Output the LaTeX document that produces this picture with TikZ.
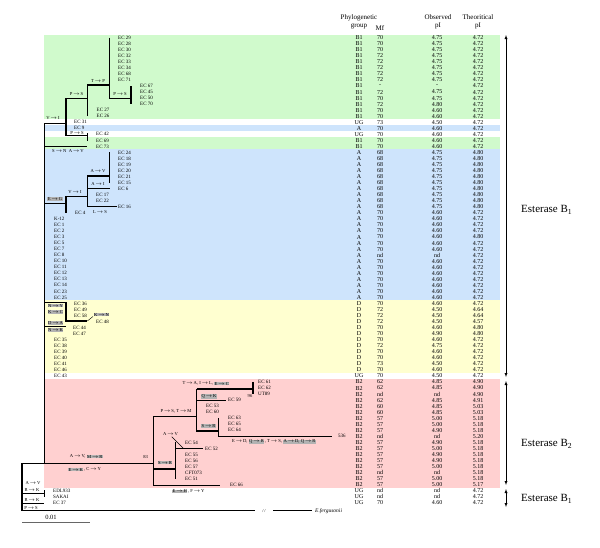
\documentclass[tikz,border=0pt]{standalone}
\usepackage{fontspec}
\setmainfont{Liberation Serif}
\usetikzlibrary{positioning}
\definecolor{bandBone}{RGB}{208,250,204}
\definecolor{bandA}{RGB}{206,228,252}
\definecolor{bandD}{RGB}{255,255,208}
\definecolor{bandBtwo}{RGB}{255,208,208}
\tikzset{
  br/.style={line width=1.1pt},
  leaf/.style={anchor=west,inner sep=0pt,font=\fontsize{5}{5}\selectfont},
  mut/.style={inner sep=0.3pt,font=\fontsize{4.6}{5}\selectfont},
  gmut/.style={mut,fill=black!30},
  cell/.style={inner sep=0pt,font=\fontsize{6}{6}\selectfont},
  head/.style={inner sep=0pt,font=\fontsize{7}{8}\selectfont,align=center},
  esta/.style={anchor=west,inner sep=0pt,font=\fontsize{11}{11}\selectfont},
}
\newcommand\ry[1]{37.7+(#1-1)*6.04}
\newcommand\mto{\,$\rightarrow$\,}
\begin{document}
\begin{tikzpicture}[x=1pt,y=-1pt,>=latex]
\useasboundingbox (0,0) rectangle (600,547);
% colour bands of the groups
\fill[bandBone] (44,{\ry{1}-3.02}) rectangle (500,{\ry{14}+3.02});
\fill[bandA] (44,{\ry{16}-3.02}) rectangle (500,{\ry{16}+3.02});
\fill[bandBone] (44,{\ry{18}-3.02}) rectangle (500,{\ry{19}+3.02});
\fill[bandA] (44,{\ry{20}-3.02}) rectangle (500,{\ry{44}+3.02});
\fill[bandD] (44,{\ry{45}-3.02}) rectangle (500,{\ry{56}+3.02});
\fill[bandBtwo] (44,{\ry{58}-3.02}) rectangle (500,{\ry{75}+3.02});

% table
\node[head] (hgrp) at (359,22) {Phylogenetic\\group};
\node[head] (hmf) at (380,28.3) {Mf};
\node[head] (hobs) at (438,22) {Observed\\pI};
\node[head] (htheo) at (478,22) {Theoritical\\pI};
\foreach \g/\m/\o/\t [count=\i] in {
  B1/70/4.75/4.72,B1/70/4.75/4.72,B1/70/4.75/4.72,B1/72/4.75/4.72,B1/72/4.75/4.72,
  B1/72/4.75/4.72,B1/72/4.75/4.72,B1/72/4.75/4.72,B1/-/-/4.72,B1/72/4.75/4.72,
  B1/70/4.75/4.72,B1/72/4.80/4.72,B1/70/4.60/4.72,B1/70/4.60/4.72,UG/73/4.50/4.72,
  A/70/4.60/4.72,UG/70/4.60/4.72,B1/70/4.60/4.72,B1/70/4.60/4.72,
  A/68/4.75/4.80,A/68/4.75/4.80,A/68/4.75/4.80,A/68/4.75/4.80,A/68/4.75/4.80,
  A/68/4.75/4.80,A/68/4.75/4.80,A/68/4.75/4.80,A/68/4.75/4.80,A/68/4.75/4.80,
  A/70/4.60/4.72,A/70/4.60/4.72,A/70/4.60/4.72,A/70/4.60/4.72,A/70/4.60/4.80,
  A/70/4.60/4.72,A/70/4.60/4.72,A/nd/nd/4.72,A/70/4.60/4.72,A/70/4.60/4.72,
  A/70/4.60/4.72,A/70/4.60/4.72,A/70/4.60/4.72,A/70/4.60/4.72,A/70/4.60/4.72,
  D/70/4.60/4.72,D/72/4.50/4.64,D/72/4.50/4.64,D/72/4.50/4.57,D/70/4.60/4.80,
  D/70/4.90/4.80,D/70/4.60/4.72,D/72/4.75/4.72,D/70/4.60/4.72,D/70/4.60/4.72,
  D/73/4.50/4.72,D/70/4.60/4.72,UG/70/4.50/4.72,
  B2/62/4.85/4.90,B2/62/4.85/4.90,B2/nd/nd/4.90,B2/62/4.85/4.91,B2/60/4.85/5.03,
  B2/60/4.85/5.03,B2/57/5.00/5.18,B2/57/5.00/5.18,B2/57/4.90/5.18,B2/nd/nd/5.20,
  B2/57/4.90/5.18,B2/57/5.00/5.18,B2/57/4.90/5.18,B2/57/4.90/5.18,B2/57/5.00/5.18,
  B2/nd/nd/5.18,B2/57/5.00/5.18,B2/57/5.00/5.17,
  UG/nd/nd/4.72,UG/nd/nd/4.72,UG/70/4.60/4.72}{
  \node[cell] (grp\i) at (359,{\ry{\i}}) {\g};
  \node[cell] (mf\i) at (380,{\ry{\i}}) {\m};
  \node[cell] (obs\i) at (437,{\ry{\i}}) {\o};
  \node[cell] (theo\i) at (478,{\ry{\i}}) {\t};
}

% leaves
\foreach \l [count=\k from 1] in {EC 29,EC 28,EC 30,EC 32,EC 33,EC 34,EC 68,EC 71}
  \node[leaf] (leaf\k) at (118,{\ry{\k}}) {\l};
\foreach \l [count=\k from 9] in {EC 67,EC 45,EC 50,EC 70}
  \node[leaf] (leaf\k) at (140,{\ry{\k}}) {\l};
\foreach \l [count=\k from 13] in {EC 27,EC 26}
  \node[leaf] (leaf\k) at (96.5,{\ry{\k}}) {\l};
\foreach \l [count=\k from 15] in {EC 31,EC 9}
  \node[leaf] (leaf\k) at (74,{\ry{\k}}) {\l};
\foreach \l [count=\k from 17] in {EC 42,EC 69,EC 73}
  \node[leaf] (leaf\k) at (96,{\ry{\k}}) {\l};
\foreach \l [count=\k from 20] in {EC 24,EC 18,EC 19,EC 20,EC 21,EC 15,EC 6}
  \node[leaf] (leaf\k) at (118,{\ry{\k}}) {\l};
\foreach \l [count=\k from 27] in {EC 17,EC 22}
  \node[leaf] (leaf\k) at (96,{\ry{\k}}) {\l};
\node[leaf] (leaf29) at (118,{\ry{29}}) {EC 16};
\node[leaf] (leaf30) at (75,{\ry{30}}) {EC 4};
\foreach \l [count=\k from 31] in {K-12,EC 1,EC 2,EC 3,EC 5,EC 7,EC 8,EC 10,EC 11,EC 12,EC 13,EC 14,EC 23,EC 25}
  \node[leaf] (leaf\k) at (54,{\ry{\k}}) {\l};
\foreach \l [count=\k from 45] in {EC 36,EC 49,EC 58}
  \node[leaf] (leaf\k) at (74,{\ry{\k}}) {\l};
\node[leaf] (leaf48) at (96,{\ry{48}}) {EC 48};
\foreach \l [count=\k from 49] in {EC 44,EC 47}
  \node[leaf] (leaf\k) at (73,{\ry{\k}}) {\l};
\foreach \l [count=\k from 51] in {EC 35,EC 38,EC 39,EC 40,EC 41,EC 46,EC 43}
  \node[leaf] (leaf\k) at (54,{\ry{\k}}) {\l};
\foreach \l [count=\k from 58] in {EC 61,EC 62,UT89}
  \node[leaf] (leaf\k) at (258,{\ry{\k}}) {\l};
\node[leaf] (leaf61) at (228,{\ry{61}}) {EC 59};
\foreach \l [count=\k from 62] in {EC 53,EC 60}
  \node[leaf] (leaf\k) at (206,{\ry{\k}}) {\l};
\foreach \l [count=\k from 64] in {EC 63,EC 65,EC 64}
  \node[leaf] (leaf\k) at (228,{\ry{\k}}) {\l};
\node[leaf] (leaf67) at (338,{\ry{67}}) {536};
\node[leaf] (leaf68) at (185,{\ry{68}}) {EC 54};
\node[leaf] (leaf69) at (205,{\ry{69}}) {EC 52};
\foreach \l [count=\k from 70] in {EC 55,EC 56,EC 57,CFT073,EC 51}
  \node[leaf] (leaf\k) at (185,{\ry{\k}}) {\l};
\node[leaf] (leaf75) at (230,{\ry{75}}) {EC 66};
\foreach \l [count=\k from 76] in {EDL933,SAKAI,EC 37}
  \node[leaf] (leaf\k) at (53,{\ry{\k}}) {\l};

% branches, B1 part
\draw[br] (109.3,{\ry{1}}) -- (109.3,98.1) -- (131,98.1);
\draw[br] (131,{\ry{9}}) -- (131,{\ry{12}});
\draw[br] (87.3,116) -- (87.3,85) -- (109.3,85);
\draw[br] (44.3,123.3) -- (66,123.3);
\draw[br] (87.3,98.1) -- (66,98.1) -- (66,135.7) -- (87.3,135.7);
\draw[br] (87.3,133) -- (87.3,140.5);
\draw[br] (44.3,146.2) -- (87.3,146.2);
% A part
\draw[br] (109.3,{\ry{20}}) -- (109.3,{\ry{25}});
\draw[br] (109.3,176) -- (87.3,176) -- (87.3,206.3) -- (117,206.3);
\draw[br] (87.3,188.7) -- (110,188.7);
\draw[br] (87.3,196.7) -- (66,196.7) -- (66,212.5);
\draw[br] (44.3,203.5) -- (66,203.5);
% D part
\draw[br] (44.3,302.3) -- (66,302.3) -- (66,321) -- (87.3,321);
\draw (87.3,321) -- (93,316.5);
\draw[br] (44.3,326.5) -- (66,326.5);
% trunk and root
\draw[br] (44.3,123.3) -- (44.3,463.3);
\draw[br] (153.3,463.3) -- (22,463.3) -- (22,510.7) -- (255,510.7);
\draw[br] (273,510.7) -- (312,510.7);
\draw[br] (22,493.3) -- (44.3,493.3);
\draw[br] (44.3,490) -- (44.3,496.5);
\draw[br] (22,503.3) -- (44.3,503.3);
% B2 part
\draw[br] (153.3,416.7) -- (153.3,485.7) -- (220,485.7);
\draw[br] (153.3,469) -- (175.7,469);
\draw[br] (175.7,{\ry{68}}) -- (175.7,{\ry{74}});
\draw[br] (175.7,{\ry{69}}) -- (203.3,{\ry{69}});
\draw (171.7,436.7) -- (183.3,448.3);
\draw[br] (153.3,416.7) -- (196.7,416.7);
\draw[br] (196.7,389) -- (196.7,431) -- (218.3,431);
\draw[br] (196.7,389) -- (253,389);
\draw[br] (253,{\ry{58}}) -- (253,{\ry{60}});
\draw[br] (196.7,{\ry{61}}) -- (226,{\ry{61}});
\draw[br] (218.3,{\ry{64}}) -- (218.3,{\ry{67}}) -- (331.7,{\ry{67}});

% mutations
\node[mut] (mTP) at (98,80.5) {T\mto P};
\node[mut] (mPSa) at (120,94) {P\mto S};
\node[mut] (mPSb) at (76.5,94) {P\mto S};
\node[mut] (mVIa) at (53,118.5) {V\mto I};
\node[mut] (mPSc) at (77,133) {P\mto S};
\node[mut] (mSN) at (68,151) {S\mto N\ \ A\mto V};
\node[mut] (mAV) at (98,171.3) {A\mto V};
\node[mut] (mAI) at (98,183.8) {A\mto I};
\node[mut] (mVIb) at (75,191.7) {V\mto I};
\node[gmut] (mEG) at (55,199.3) {E\mto G};
\node[mut] (mLS) at (100,212.3) {L\mto S};
\node[gmut] (mNY) at (55.5,305.5) {N\mto Y};
\node[gmut] (mKC) at (55.5,311.8) {K\mto C};
\node[gmut] (mKN) at (101.5,314.5) {K\mto N};
\node[gmut] (mDA) at (55.5,323) {D\mto A};
\node[gmut] (mNK) at (55.5,330) {N\mto K};
\node[mut] (mAVr) at (33,483.5) {A\mto V};
\node[mut] (mRKa) at (32,490.3) {R\mto K};
\node[mut] (mRKb) at (32,500) {R\mto K};
\node[mut] (mPSr) at (31,507.6) {P\mto S};
\node[mut,anchor=east] (mAVb) at (86,456.5) {A\mto V,};
\node[gmut,right=0.5pt of mAVb] (mMR) {M\mto R};
\node[mut] (boot83) at (145.7,456.5) {83};
\node[gmut,anchor=west] (mEK) at (68,469.5) {E\mto K};
\node[mut,right=0pt of mEK] (mCY) {, C\mto Y};
\node[mut] (mPST) at (176,411.7) {P\mto S, T\mto M};
\node[gmut] (mSRa) at (165,462.5) {S\mto R};
\node[gmut,anchor=west] (mEH) at (172,491.3) {E\mto H};
\node[mut,right=0pt of mEH] (mFY) {, F\mto Y};
\node[mut] (mAVc) at (170.5,434.3) {A\mto V};
\node[gmut] (mSRb) at (208.5,426) {S\mto R};
\node[mut,anchor=west] (mED) at (231.5,441.8) {E\mto D,};
\node[gmut,right=0.5pt of mED] (mQRa) {Q\mto R};
\node[mut,right=0pt of mQRa] (mTS) {, T\mto S,};
\node[gmut,right=0.5pt of mTS] (mAD) {A\mto D, Q\mto R};
\node[mut,anchor=west] (mTA) at (182,383.5) {T\mto A, I\mto L,};
\node[gmut,right=0.5pt of mTA] (mEC) {E\mto C};
\node[gmut] (mQK) at (209,396.5) {Q\mto K};
\node[mut] (boot96) at (250,395.5) {96};

% outgroup and scale
\node[mut] (brk) at (264,510.7) {/\,/};
\node[leaf,font=\fontsize{5.5}{6}\selectfont\itshape] (ferg) at (315,510.7) {E.fergusonii};
\draw[black!60,line width=1pt] (22,522.7) -- (90,522.7);
\node[cell,font=\fontsize{6.5}{7}\selectfont] (scl) at (51,517.5) {0.01};

% esterase ranges
\coordinate (eTopA) at (506,35);
\coordinate (eBotA) at (506,377);
\coordinate (eTopB) at (506,381);
\coordinate (eBotB) at (506,485);
\coordinate (eTopC) at (506,489);
\coordinate (eBotC) at (506,507);
\draw[<->,thin] (eTopA) -- (eBotA);
\draw[<->,thin] (eTopB) -- (eBotB);
\draw[<->,thin] (eTopC) -- (eBotC);
\node[esta] (estB1) at (521,210) {Esterase B\textsubscript{1}};
\node[esta] (estB2) at (521,444) {Esterase B\textsubscript{2}};
\node[esta] (estB1b) at (521,499) {Esterase B\textsubscript{1}};
\end{tikzpicture}
\end{document}
